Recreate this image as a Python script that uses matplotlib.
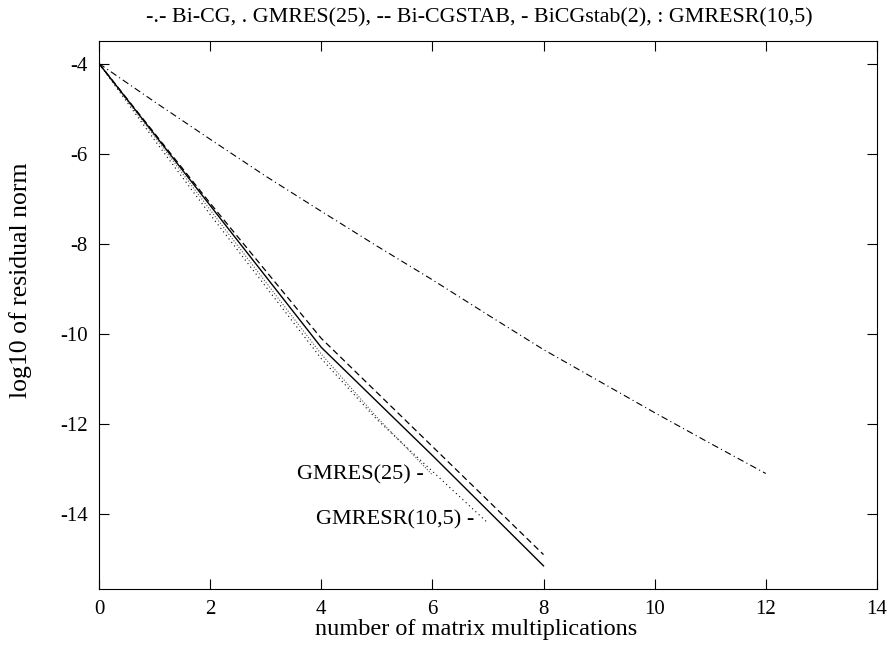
import matplotlib
matplotlib.use("Agg")
import matplotlib.pyplot as plt

# residual histories, log10 of residual norm vs matrix multiplications
bicg_x = [0, 1, 2, 3, 4, 5, 6, 7, 8, 9, 10, 11, 12]
bicg_y = [-4.0, -4.85, -5.68, -6.5, -7.28, -8.05, -8.8, -9.58, -10.35, -11.05, -11.75, -12.43, -13.1]

gmres_x = [0, 1, 2, 3, 4, 5, 6]
gmres_y = [-4.0, -5.62, -7.25, -8.85, -10.45, -11.85, -13.13]

bicgstab_x = [0, 2, 4, 6, 8]
bicgstab_y = [-4.0, -7.1, -10.1, -12.5, -14.9]

bicgstab2_x = [0, 2, 4, 6, 8]
bicgstab2_y = [-4.0, -7.15, -10.3, -12.7, -15.15]

gmresr_x = [0, 1, 2, 3, 4, 5, 6, 7]
gmresr_y = [-4.0, -5.7, -7.35, -8.95, -10.55, -11.9, -13.05, -14.2]

title = "-.- Bi-CG, . GMRES(25), -- Bi-CGSTAB, - BiCGstab(2), : GMRESR(10,5)"

plt.rcParams["font.family"] = ["Liberation Serif", "DejaVu Serif"]
plt.rcParams["axes.unicode_minus"] = False

fig = plt.figure(figsize=(8.88, 6.66), dpi=100)
ax = fig.add_axes([0.1115, 0.1152, 0.876, 0.8232])

ax.plot(bicg_x, bicg_y, color="black", lw=0.8, linestyle=(0, (6, 3, 1, 3)))
ax.plot(gmres_x, gmres_y, color="#555555", lw=0.8, linestyle=(0, (1, 1.5)))
ax.plot(bicgstab_x, bicgstab_y, color="black", lw=0.9, linestyle=(0, (5, 3)))
ax.plot(bicgstab2_x, bicgstab2_y, color="black", lw=1.0)
ax.plot(gmresr_x, gmresr_y, color="black", lw=0.8, linestyle=(0, (1, 3)))

ax.text(5.85, -13.13, "GMRES(25) -", ha="right", va="center", fontsize=16)
ax.text(6.75, -14.12, "GMRESR(10,5) -", ha="right", va="center", fontsize=16)

ax.set_xlim(0, 14)
ax.set_ylim(-15.67, -3.5)
ax.set_xticks(range(0, 15, 2))
ax.set_yticks([-14, -12, -10, -8, -6, -4])
ax.tick_params(direction="in", length=7, width=0.8, top=True, right=True,
               pad=8, labelsize=15)
for s in ax.spines.values():
    s.set_linewidth(0.8)

ax.set_xlabel("number of matrix multiplications", fontsize=17.5, va="center")
ax.xaxis.set_label_coords(0.485, -0.073)
ax.set_ylabel("log10 of residual norm", fontsize=18.5, va="center")
ax.yaxis.set_label_coords(-0.1015, 0.564)
ax.set_title(title, fontsize=15.8, x=0.489, pad=13)

fig.savefig("out.png", dpi=100)
